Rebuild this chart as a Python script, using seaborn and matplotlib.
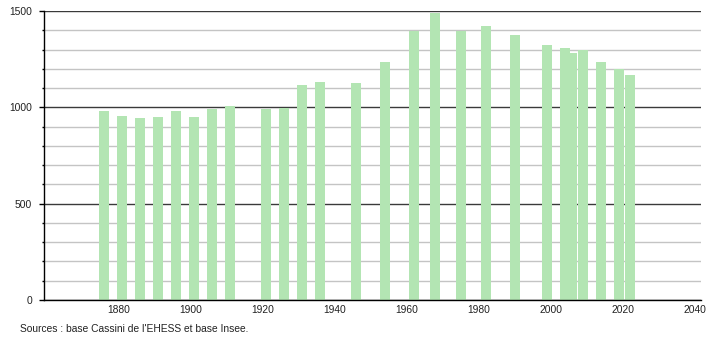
import matplotlib
matplotlib.use("Agg")
import matplotlib.pyplot as plt
import seaborn as sns
import pandas as pd
from matplotlib.ticker import MultipleLocator, FixedLocator

years = [1876, 1881, 1886, 1891, 1896, 1901, 1906, 1911, 1921, 1926, 1931, 1936,
         1946, 1954, 1962, 1968, 1975, 1982, 1990, 1999, 2004, 2006, 2009, 2014,
         2019, 2022]
population = [980, 957, 946, 948, 979, 948, 991, 1005, 991, 998, 1114, 1131,
              1126, 1233, 1397, 1492, 1397, 1420, 1378, 1323, 1309, 1281, 1299,
              1233, 1198, 1166]
x_ticks = [1880, 1900, 1920, 1940, 1960, 1980, 2000, 2020, 2040]
y_ticks = [0, 500, 1000, 1500]
source_text = "Sources : base Cassini de l'EHESS et base Insee."

sns.set_theme(style="white")
plt.rcParams['font.family'] = ['Liberation Sans', 'DejaVu Sans']

df = pd.DataFrame({"year": years, "pop": population})

fig = plt.figure(figsize=(7.1, 3.4), dpi=100)
ax = fig.add_axes([44/710, 1 - 300/340, (701 - 44)/710, (300 - 11)/340])

sns.barplot(data=df, x="year", y="pop", native_scale=True, width=1.39,
            color="#b3e5b3", saturation=1, ax=ax, linewidth=0, errorbar=None)

ax.set_xlim(1859.3, 2041.8)
ax.set_ylim(0, 1500)
ax.set_axisbelow(True)

ax.yaxis.set_major_locator(FixedLocator(y_ticks))
ax.yaxis.set_minor_locator(MultipleLocator(100))
ax.xaxis.set_major_locator(FixedLocator(x_ticks))
ax.set_xticklabels([str(t) for t in x_ticks])
ax.set_yticklabels([str(t) for t in y_ticks])

ax.grid(which="minor", axis="y", color="#c4c4c4", linewidth=1.0)
ax.grid(which="major", axis="y", color="#3a3a3a", linewidth=1.0)
ax.grid(False, axis="x")

for s in ["top", "right"]:
    ax.spines[s].set_visible(False)
for s in ["left", "bottom"]:
    ax.spines[s].set_visible(True)
    ax.spines[s].set_color("black")
    ax.spines[s].set_linewidth(1.0)

ax.tick_params(axis="y", which="major", direction="out", length=3.6, width=1,
               color="black", pad=5, labelsize=7.4, labelcolor="#222222", left=True)
ax.tick_params(axis="y", which="minor", direction="out", length=1.5, width=1,
               color="black", left=True)
ax.tick_params(axis="x", which="both", length=0, pad=3.5, labelsize=7.4,
               labelcolor="#222222")
ax.set_xlabel("")
ax.set_ylabel("")

fig.text(20/710, 1 - 329/340, source_text, fontsize=7.4, color="#222222",
         ha="left", va="center")

fig.savefig("out.png", dpi=100)
